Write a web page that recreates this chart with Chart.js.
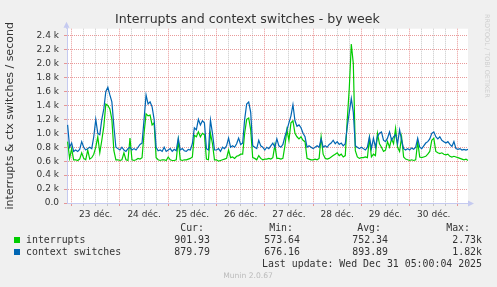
<!DOCTYPE html>
<html>
<head>
<meta charset="utf-8">
<script src="https://cdn.jsdelivr.net/npm/chart.js@4"></script>
<style>
  html, body { margin: 0; padding: 0; background: #f0f0f0; }
  canvas { display: block; }
</style>
</head>
<body>
<canvas id="chart" width="497" height="287"></canvas>
<script>
// hourly samples, first one is Dec 22 22:00 (hours counted from Dec 23 00:00)
const firstHour = -2;
const dayLabels = ["23 déc.", "24 déc.", "25 déc.", "26 déc.", "27 déc.", "28 déc.", "29 déc.", "30 déc."];

// values in k / second
const interrupts = [
  0.88, 0.64,
  0.78, 0.62, 0.62, 0.61, 0.63, 0.72, 0.64, 0.62, 0.76, 0.63, 0.65, 0.70,
  0.80, 0.95, 0.72, 0.90, 1.10, 1.42, 1.40, 1.35, 1.20, 0.75, 0.62, 0.62,
  0.61, 0.62, 0.72, 0.62, 0.61, 0.93, 0.62, 0.61, 0.62, 0.64, 0.63, 0.65,
  1.00, 1.28, 1.25, 1.26, 1.12, 1.15, 0.65, 0.62, 0.61, 0.62, 0.62, 0.61,
  0.66, 0.62, 0.61, 0.61, 0.62, 0.90, 0.62, 0.61, 0.62, 0.62, 0.63, 0.64,
  0.66, 0.97, 0.95, 1.02, 0.95, 1.00, 0.98, 0.63, 0.62, 1.00, 0.85, 0.62,
  0.62, 0.60, 0.61, 0.62, 0.63, 0.64, 0.76, 0.65, 0.66, 0.64, 0.67, 0.68,
  0.70, 0.70, 1.00, 1.20, 1.22, 1.05, 0.65, 0.64, 0.62, 0.68, 0.64, 0.62,
  0.63, 0.63, 0.64, 0.63, 0.65, 0.83, 0.64, 0.64, 0.63, 0.64, 0.82, 1.05,
  0.90, 1.15, 1.18, 1.00, 0.95, 0.92, 0.95, 0.90, 0.88, 0.64, 0.63, 0.62,
  0.62, 0.63, 0.62, 0.64, 0.95, 0.70, 0.64, 0.63, 0.64, 0.66, 0.68, 0.70,
  0.72, 0.68, 0.70, 0.66, 0.68, 1.20, 1.65, 2.28, 2.00, 0.75, 0.66, 0.64,
  0.65, 0.65, 0.66, 0.65, 0.93, 0.66, 0.70, 0.68, 1.00, 0.85, 0.80, 0.74,
  0.76, 0.88, 0.80, 0.92, 0.85, 1.07, 0.80, 0.74, 0.95, 0.66, 0.63, 0.62,
  0.61, 0.62, 0.61, 0.62, 0.88, 0.66, 0.65, 0.66, 0.67, 0.70, 0.74, 0.90,
  0.93, 0.74, 0.72, 0.71, 0.72, 0.70, 0.69, 0.70, 0.67, 0.66, 0.67, 0.66,
  0.65, 0.64, 0.63, 0.62, 0.63, 0.61
];

const contextSwitches = [
  1.12, 0.80,
  0.86, 0.74, 0.76, 0.74, 0.77, 0.88, 0.80, 0.76, 0.78, 0.80, 0.78, 0.95,
  1.20, 1.00, 0.98, 1.20, 1.35, 1.60, 1.66, 1.55, 1.45, 1.10, 0.80, 0.78,
  0.76, 0.80, 0.76, 0.74, 0.78, 0.80, 0.76, 0.78, 0.76, 0.80, 0.84, 0.86,
  1.20, 1.55, 1.42, 1.45, 1.38, 1.20, 0.80, 0.75, 0.76, 0.74, 0.80, 0.74,
  0.76, 0.78, 0.74, 0.77, 0.75, 0.93, 0.76, 0.78, 0.75, 0.74, 0.77, 0.76,
  0.85, 1.08, 1.05, 1.20, 1.12, 1.18, 1.15, 0.78, 0.76, 1.19, 1.00, 0.76,
  0.76, 0.78, 0.74, 0.80, 0.78, 0.82, 0.93, 0.80, 0.82, 0.80, 0.85, 0.93,
  0.84, 0.86, 1.20, 1.42, 1.45, 1.30, 0.82, 0.80, 0.78, 0.90, 0.82, 0.80,
  0.76, 0.80, 0.78, 0.82, 0.86, 0.80, 0.92, 0.82, 0.80, 0.84, 0.95, 1.05,
  1.15, 1.25, 1.41, 1.18, 1.10, 1.12, 1.08, 1.00, 0.95, 0.80, 0.82, 0.80,
  0.78, 0.80, 0.82, 0.80, 0.92, 0.80, 0.82, 0.80, 0.84, 0.86, 0.90, 0.85,
  0.88, 0.84, 0.86, 0.82, 0.85, 1.10, 1.30, 1.50, 1.30, 0.82, 0.80, 0.78,
  0.80, 0.78, 0.76, 0.80, 0.95, 0.78, 0.93, 0.80, 0.95, 1.00, 1.02, 0.90,
  0.88, 0.93, 1.02, 0.90, 0.95, 0.98, 0.85, 1.05, 0.90, 0.78, 0.76, 0.78,
  0.76, 0.79, 0.77, 0.80, 0.93, 0.80, 0.78, 0.82, 0.86, 0.88, 0.92, 1.00,
  1.02, 0.95, 0.92, 0.95, 0.90, 0.88, 0.86, 0.88, 0.84, 0.81, 0.88, 0.78,
  0.77, 0.78, 0.76, 0.77, 0.76, 0.77
];

const statHeaders = ["Cur:", "Min:", "Avg:", "Max:"];
const interruptsStats = ["901.93", "573.64", "752.34", "2.73k"];
const contextSwitchesStats = ["879.79", "676.16", "893.89", "1.82k"];
const lastUpdate = "Last update: Wed Dec 31 05:00:04 2025";

const GREEN = "#00cc00";
const BLUE = "#0066b3";
const AXIS = "#c5caf0";
const MAJOR = "rgba(225,120,120,0.75)";
const MINOR = "rgba(185,185,185,0.8)";

const toPoints = (arr) => arr.map((v, i) => ({ x: firstHour + i, y: v }));

const muninPlugin = {
  id: "munin",
  beforeDraw(chart) {
    const { ctx, chartArea: a } = chart;
    ctx.save();
    ctx.fillStyle = "#f0f0f0";
    ctx.fillRect(0, 0, chart.width, chart.height);
    ctx.fillStyle = "#ffffff";
    ctx.fillRect(a.left, a.top, a.right - a.left, a.bottom - a.top);
    ctx.restore();
  },
  afterDraw(chart) {
    const { ctx, chartArea: a } = chart;
    ctx.save();
    // axis arrows
    ctx.strokeStyle = AXIS;
    ctx.fillStyle = AXIS;
    ctx.lineWidth = 1;
    ctx.beginPath();
    ctx.moveTo(a.left - 0.5, a.top);
    ctx.lineTo(a.left - 0.5, a.top - 5);
    ctx.moveTo(a.right, a.bottom + 0.5);
    ctx.lineTo(a.right + 4, a.bottom + 0.5);
    ctx.stroke();
    ctx.beginPath();
    ctx.moveTo(a.left - 3.5, a.top - 1);
    ctx.lineTo(a.left + 2.5, a.top - 1);
    ctx.lineTo(a.left - 0.5, a.top - 7);
    ctx.closePath();
    ctx.fill();
    ctx.beginPath();
    ctx.moveTo(a.right, a.bottom - 2.5);
    ctx.lineTo(a.right, a.bottom + 3.5);
    ctx.lineTo(a.right + 6, a.bottom + 0.5);
    ctx.closePath();
    ctx.fill();

    // legend table
    ctx.font = '9.9px "DejaVu Sans Mono"';
    ctx.fillStyle = "#333";
    ctx.textBaseline = "middle";
    ctx.textAlign = "right";
    const headX = [204, 293, 381, 470];
    const valX = [210, 300, 388, 482];
    statHeaders.forEach((t, i) => ctx.fillText(t, headX[i], 228));
    interruptsStats.forEach((t, i) => ctx.fillText(t, valX[i], 240));
    contextSwitchesStats.forEach((t, i) => ctx.fillText(t, valX[i], 252));
    ctx.fillText(lastUpdate, 482, 264);
    ctx.textAlign = "left";
    ctx.fillText("interrupts", 26, 240);
    ctx.fillText("context switches", 26, 252);
    ctx.fillStyle = GREEN;
    ctx.fillRect(14, 237, 6, 6);
    ctx.fillStyle = BLUE;
    ctx.fillRect(14, 249, 6, 6);

    ctx.font = '7.6px "DejaVu Sans"';
    ctx.fillStyle = "#bbb";
    ctx.textAlign = "center";
    ctx.fillText("Munin 2.0.67", 248, 276);

    ctx.translate(487, 14);
    ctx.rotate(Math.PI / 2);
    ctx.font = '6.5px "DejaVu Sans"';
    ctx.fillStyle = "#cfcfcf";
    ctx.textAlign = "left";
    ctx.fillText("RRDTOOL / TOBI OETIKER", 0, 0);
    ctx.restore();
  }
};

new Chart(document.getElementById("chart"), {
  type: "line",
  data: {
    datasets: [
      {
        label: "interrupts",
        data: toPoints(interrupts),
        borderColor: GREEN,
        borderWidth: 1.2,
        pointRadius: 0,
        fill: false,
        order: 1
      },
      {
        label: "context switches",
        data: toPoints(contextSwitches),
        borderColor: BLUE,
        borderWidth: 1.2,
        pointRadius: 0,
        fill: false,
        order: 0
      }
    ]
  },
  options: {
    responsive: false,
    animation: false,
    // left/right padding balanced so the title centres on the canvas
    layout: { padding: { left: 27, right: 29, top: 0, bottom: 0 } },
    plugins: {
      legend: { display: false },
      tooltip: { enabled: false },
      title: {
        display: true,
        text: "Interrupts and context switches - by week",
        color: "#333",
        font: { family: "DejaVu Sans", size: 12.6, weight: "normal" },
        padding: { top: 12, bottom: 1.6 }
      }
    },
    scales: {
      x: {
        type: "linear",
        min: -2.3,
        max: 197,
        afterBuildTicks(scale) {
          const t = [];
          for (let h = 0; h <= 192; h += 6) t.push({ value: h });
          scale.ticks = t;
        },
        afterFit(scale) { scale.height = 84; },
        grid: {
          color: (c) => (c.tick && c.tick.value % 24 === 0 ? MAJOR : MINOR),
          tickColor: (c) => (c.tick && c.tick.value % 24 === 0 ? MAJOR : MINOR),
          tickLength: 3,
          lineWidth: 1
        },
        border: { display: true, color: AXIS, width: 1, dash: [1, 1] },
        ticks: {
          autoSkip: false,
          maxRotation: 0,
          padding: 3,
          color: "#333",
          font: { family: "DejaVu Sans", size: 9 },
          callback: (v) => (v % 24 === 12 ? dayLabels[(v - 12) / 24] : "")
        }
      },
      y: {
        min: 0,
        max: 2.5,
        afterBuildTicks(scale) {
          const t = [];
          for (let n = 0; n <= 25; n++) t.push({ value: n / 10 });
          scale.ticks = t;
        },
        afterFit(scale) { scale.width = 40; },
        grid: {
          color: (c) => {
            const n = Math.round(c.tick.value * 10);
            if (n === 0) return "rgba(0,0,0,0)";
            return n % 2 === 0 ? MAJOR : MINOR;
          },
          tickColor: (c) => (Math.round(c.tick.value * 10) % 2 === 0 ? MAJOR : MINOR),
          tickLength: 3,
          lineWidth: 1
        },
        border: { display: true, color: AXIS, width: 1, dash: [1, 1] },
        ticks: {
          padding: 5,
          color: "#333",
          font: { family: "DejaVu Sans", size: 9 },
          callback: (v) => {
            const n = Math.round(v * 10);
            if (n % 2) return "";
            return n === 0 ? "0.0" : (n / 10).toFixed(1) + " k";
          }
        },
        title: {
          display: true,
          text: "interrupts & ctx switches / second",
          color: "#333",
          font: { family: "DejaVu Sans", size: 11 },
          // pulled back into the left padding strip
          padding: { top: -23.6 }
        }
      }
    }
  },
  plugins: [muninPlugin]
});
</script>
</body>
</html>
